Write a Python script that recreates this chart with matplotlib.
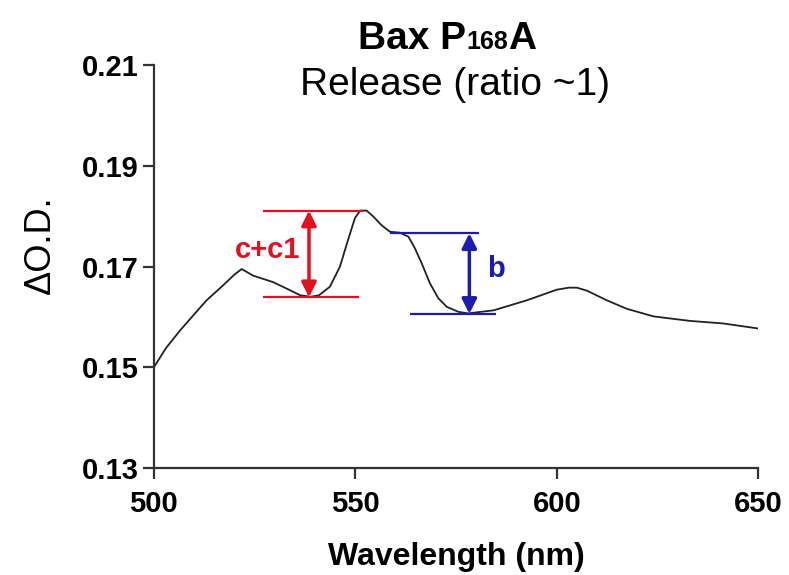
import matplotlib
matplotlib.use('Agg')
import matplotlib.pyplot as plt
from matplotlib.offsetbox import TextArea, HPacker, AnnotationBbox

plt.rcParams['font.family'] = ['Liberation Sans', 'DejaVu Sans']

# spectrum
wavelength = [500, 503.0, 506.5, 510.0, 513.1, 517.1, 520.0, 521.8, 524.6, 529.6,
              533.0, 536.3, 539.0, 541.0, 543.7, 546.2, 548.2, 549.9, 551.2, 552.8,
              554.5, 556.5, 558.6, 561.1, 563.2, 564.8, 566.5, 568.5, 570.6, 572.7,
              575.6, 578.0, 584.3, 592.6, 600.0, 603.0, 605.0, 607.5, 612.4, 617.4,
              624.0, 633.1, 641.3, 650]
delta_od = [0.1500, 0.1538, 0.1573, 0.1605, 0.1633, 0.1662, 0.1684, 0.1695, 0.1682, 0.1669,
            0.1656, 0.1643, 0.1640, 0.1643, 0.1660, 0.1700, 0.1753, 0.1796, 0.1811, 0.1811,
            0.1799, 0.1782, 0.1769, 0.1767, 0.1759, 0.1736, 0.1706, 0.1667, 0.1637, 0.1620,
            0.1610, 0.1607, 0.1613, 0.1633, 0.1654, 0.1658, 0.1658, 0.1652, 0.1633, 0.1616,
            0.1601, 0.1592, 0.1587, 0.1577]

# annotation levels
red_top, red_bottom, red_x = 0.1811, 0.1639, 538.5
red_top_span, red_bottom_span = (527, 552), (527, 551)
blue_top, blue_bottom, blue_x = 0.1766, 0.1606, 578.3
blue_top_span, blue_bottom_span = (558.5, 580.7), (563.5, 584.8)

xticks = [500, 550, 600, 650]
yticks = [0.13, 0.15, 0.17, 0.19, 0.21]

red = '#e3101f'
blue = '#1c1cb0'

fig = plt.figure(figsize=(7.89, 5.75), dpi=100)
ax = fig.add_axes([0.195, 0.186, 0.766, 0.701])

ax.plot(wavelength, delta_od, color='#222222', lw=1.3)

# red marker (c+c1)
ax.hlines(red_top, *red_top_span, color=red, lw=1.6)
ax.hlines(red_bottom, *red_bottom_span, color=red, lw=1.6)
ax.annotate('', xy=(red_x, red_bottom), xytext=(red_x, red_top),
            arrowprops=dict(arrowstyle='<|-|>', color=red, lw=2.5,
                            mutation_scale=22, shrinkA=0, shrinkB=0))
ax.text(536.3, 0.1732, 'c+c1', color=red, fontsize=21, fontweight='bold',
        ha='right', va='center')

# blue marker (b)
ax.hlines(blue_top, *blue_top_span, color=blue, lw=1.6)
ax.hlines(blue_bottom, *blue_bottom_span, color=blue, lw=1.6)
ax.annotate('', xy=(blue_x, blue_bottom), xytext=(blue_x, blue_top),
            arrowprops=dict(arrowstyle='<|-|>', color=blue, lw=2.5,
                            mutation_scale=22, shrinkA=0, shrinkB=0))
ax.text(582.6, 0.1696, 'b', color=blue, fontsize=21, fontweight='bold',
        ha='left', va='center')

ax.set_xlim(500, 650)
ax.set_ylim(0.13, 0.21)
ax.set_xticks(xticks)
ax.set_yticks(yticks)
ax.set_yticklabels(['%.2f' % v for v in yticks])
for s in ['top', 'right']:
    ax.spines[s].set_visible(False)
for s in ['left', 'bottom']:
    ax.spines[s].set_linewidth(1.6)
    ax.spines[s].set_color('#333333')
ax.tick_params(direction='out', length=8, width=1.6, color='#333333',
               labelsize=21)
ax.tick_params(axis='y', pad=3)
ax.tick_params(axis='x', pad=8)
for lab in ax.get_xticklabels() + ax.get_yticklabels():
    lab.set_fontweight('bold')

ax.set_xlabel('Wavelength (nm)', fontsize=23, fontweight='bold', labelpad=17)
ax.set_ylabel('ΔO.D.', fontsize=26)
ax.yaxis.set_label_coords(-0.158, 0.553)

# title: "Bax P168A" with small 168 on the baseline
parts = [TextArea('Bax P', textprops=dict(fontsize=28, fontweight='bold')),
         TextArea('168', textprops=dict(fontsize=18, fontweight='bold')),
         TextArea('A', textprops=dict(fontsize=28, fontweight='bold'))]
title_box = HPacker(children=parts, align='baseline', pad=0, sep=0)
ab = AnnotationBbox(title_box, (0.567, 0.932), xycoords='figure fraction',
                    frameon=False, box_alignment=(0.5, 0.5))
fig.add_artist(ab)
fig.text(0.577, 0.852, 'Release (ratio ~1)', fontsize=28, ha='center', va='center')

fig.savefig('out.png', dpi=100)
